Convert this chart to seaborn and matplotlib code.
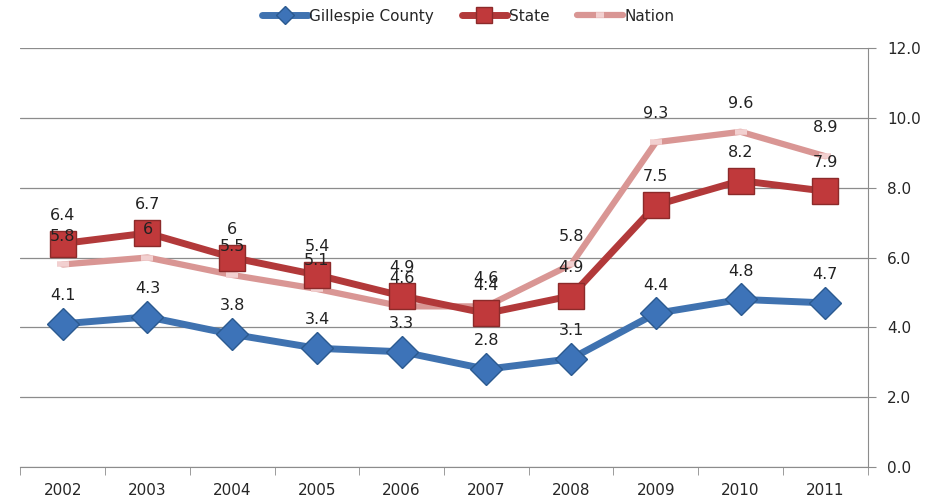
import pandas as pd
import matplotlib.pyplot as plt
import seaborn as sns

years = ['2002', '2003', '2004', '2005', '2006', '2007', '2008', '2009', '2010', '2011']
county = [4.1, 4.3, 3.8, 3.4, 3.3, 2.8, 3.1, 4.4, 4.8, 4.7]
state = [6.4, 6.7, 6.0, 5.5, 4.9, 4.4, 4.9, 7.5, 8.2, 7.9]
nation = [5.8, 6.0, 5.5, 5.1, 4.6, 4.6, 5.8, 9.3, 9.6, 8.9]
state_labels = ['6.4', '6.7', '6', '5.4', '4.9', '4.4', '4.9', '7.5', '8.2', '7.9']
nation_labels = ['5.8', '6', '5.5', '5.1', '4.6', '4.6', '5.8', '9.3', '9.6', '8.9']
county_labels = ['4.1', '4.3', '3.8', '3.4', '3.3', '2.8', '3.1', '4.4', '4.8', '4.7']

df = pd.DataFrame({'Year': years, 'Gillespie County': county, 'State': state, 'Nation': nation})

sns.set_style('white')
plt.rcParams['font.family'] = ['DejaVu Sans']

fig = plt.figure(figsize=(9.27, 5.0), dpi=100)
ax = fig.add_axes([0.022, 0.066, 0.914, 0.838])

# Nation drawn first so it sits behind State
sns.lineplot(data=df, x='Year', y='Nation', ax=ax, color='#d99694', linewidth=4.5,
             marker='_', markersize=9, markeredgewidth=4, markeredgecolor='#f2d0d0',
             label='Nation', sort=False)
sns.lineplot(data=df, x='Year', y='State', ax=ax, color='#b2393a', linewidth=5,
             marker='s', markersize=19, markerfacecolor='#c0393b', markeredgecolor='#8c2a2a',
             markeredgewidth=1, label='State', sort=False)
sns.lineplot(data=df, x='Year', y='Gillespie County', ax=ax, color='#3f72b0', linewidth=5,
             marker='D', markersize=16, markerfacecolor='#3d73b8', markeredgecolor='#2b5a90',
             markeredgewidth=1, label='Gillespie County', sort=False)

# data labels
for vals, labs in [(county, county_labels), (state, state_labels), (nation, nation_labels)]:
    for i, (v, t) in enumerate(zip(vals, labs)):
        ax.annotate(t, (i, v), xytext=(0, 15), textcoords='offset points',
                    ha='center', va='bottom', fontsize=11.5, color='#222222')

ax.set_xlim(-0.5, 9.5)
ax.set_ylim(0, 12)
ax.set_yticks([0, 2, 4, 6, 8, 10, 12])
ax.set_yticklabels(['0.0', '2.0', '4.0', '6.0', '8.0', '10.0', '12.0'])
ax.yaxis.tick_right()
ax.grid(axis='y', color='#8c8c8c', linewidth=0.9)
ax.set_axisbelow(True)
ax.set_xlabel('')
ax.set_ylabel('')
for s in ['top', 'left']:
    ax.spines[s].set_visible(False)
ax.spines['right'].set_color('#8c8c8c')
ax.spines['bottom'].set_color('#8c8c8c')
ax.tick_params(axis='y', right=True, length=6, color='#8c8c8c', labelsize=11, pad=8)
ax.tick_params(axis='x', bottom=False, labelsize=11, pad=8)
ax.set_xticks(range(len(years)), minor=False)
ax.set_xticks([i + 0.5 for i in range(-1, len(years))], minor=True)
ax.tick_params(axis='x', which='minor', bottom=True, length=6, color='#8c8c8c')

handles, labels = ax.get_legend_handles_labels()
order = [2, 1, 0]
leg = fig.legend([handles[i] for i in order], [labels[i] for i in order], loc='upper center',
                 bbox_to_anchor=(0.505, 1.01), ncol=3, frameon=False, fontsize=11,
                 handlelength=3, handletextpad=0.1, columnspacing=1.8, markerscale=0.6)
ax.get_legend().remove()

plt.savefig('out.png', dpi=100)
